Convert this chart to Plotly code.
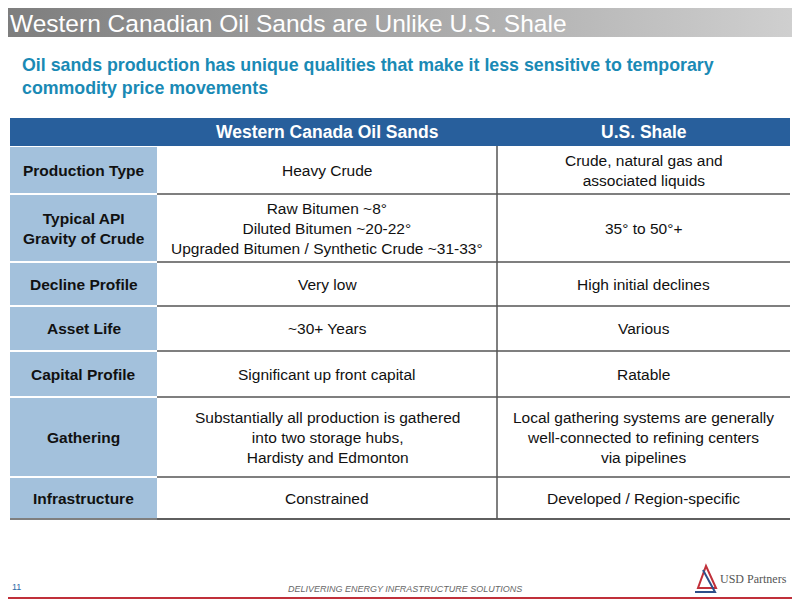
import plotly.graph_objects as go

# table content
header = ["Western Canada Oil Sands", "U.S. Shale"]
row_labels = ["Production Type", "Typical API<br>Gravity of Crude", "Decline Profile",
              "Asset Life", "Capital Profile", "Gathering", "Infrastructure"]
oil_sands = ["Heavy Crude",
             "Raw Bitumen ~8°<br>Diluted Bitumen ~20-22°<br>Upgraded Bitumen / Synthetic Crude ~31-33°",
             "Very low", "~30+ Years", "Significant up front capital",
             "Substantially all production is gathered<br>into two storage hubs,<br>Hardisty and Edmonton",
             "Constrained"]
shale = ["Crude, natural gas and<br>associated liquids", "35° to 50°+", "High initial declines",
         "Various", "Ratable",
         "Local gathering systems are generally<br>well-connected to refining centers<br>via pipelines",
         "Developed / Region-specific"]

# layout of the table (pixels)
col_edges = [10, 157, 497, 790]
header_top, header_bottom = 118, 146
row_heights = [48, 68, 44, 45, 46, 80, 42]

FONT = "Liberation Sans, Arial"
fig = go.Figure()

# title bar with gradient
fig.add_trace(go.Scatter(
    x=[0, 800, 800, 0, 0], y=[0, 0, 37, 37, 0], mode="lines", line=dict(width=0),
    fill="toself", hoverinfo="skip", showlegend=False,
    fillgradient=dict(type="horizontal", colorscale=[[0, "#7d7d7d"], [1, "#d0d0d0"]]),
))

# header
fig.add_shape(type="rect", x0=col_edges[0], x1=col_edges[3], y0=header_top, y1=header_bottom,
              fillcolor="#285f9c", line_width=0, layer="below")
for i, h in enumerate(header):
    fig.add_annotation(x=(col_edges[i + 1] + col_edges[i + 2]) / 2, y=(header_top + header_bottom) / 2,
                       text="<b>%s</b>" % h, showarrow=False,
                       font=dict(family=FONT, size=17.5, color="white"))

# rows
y = header_bottom
for lab, a, b, h in zip(row_labels, oil_sands, shale, row_heights):
    fig.add_shape(type="rect", x0=col_edges[0], x1=col_edges[1], y0=y + 1, y1=y + h - 1,
                  fillcolor="#a3c1dc", line_width=0, layer="below")
    fig.add_shape(type="line", x0=col_edges[1], x1=col_edges[3], y0=y + h, y1=y + h,
                  line=dict(color="#555555", width=1.5))
    for txt, c0, c1, bold in [(lab, 0, 1, True), (a, 1, 2, False), (b, 2, 3, False)]:
        fig.add_annotation(x=(col_edges[c0] + col_edges[c1]) / 2, y=y + h / 2,
                           text="<b>%s</b>" % txt if bold else txt, showarrow=False, align="center",
                           font=dict(family=FONT, size=15.5, color="#111111"))
    y += h
fig.add_shape(type="line", x0=col_edges[0], x1=col_edges[3], y0=y, y1=y,
              line=dict(color="#555555", width=1.5))
fig.add_shape(type="line", x0=col_edges[2], x1=col_edges[2], y0=header_bottom, y1=y,
              line=dict(color="#555555", width=1.5))

fig.add_annotation(x=8, y=23, text="Western Canadian Oil Sands are Unlike U.S. Shale",
                   showarrow=False, xanchor="left", yanchor="middle",
                   font=dict(family=FONT, size=24.5, color="white"))
fig.add_annotation(x=20, y=76,
                   text="<b>Oil sands production has unique qualities that make it less sensitive to temporary<br>commodity price movements</b>",
                   showarrow=False, xanchor="left", yanchor="middle", align="left",
                   font=dict(family=FONT, size=17.8, color="#1a8ab5"))
fig.add_annotation(x=10, y=587, text="11", showarrow=False, xanchor="left",
                   font=dict(family=FONT, size=9, color="#2d6aa6"))
fig.add_annotation(x=405, y=589, text="<i>DELIVERING ENERGY INFRASTRUCTURE SOLUTIONS</i>",
                   showarrow=False, font=dict(family=FONT, size=9, color="#666666"))
fig.add_annotation(x=718, y=579, text="USD Partners", showarrow=False, xanchor="left",
                   font=dict(family="Liberation Serif, Times New Roman", size=12, color="#555555"))

fig.add_shape(type="line", x0=0, x1=800, y0=598, y1=598, line=dict(color="#c0303a", width=2))
fig.add_shape(type="path", path="M 706 566 L 716 588 L 698 588 Z", line=dict(color="#c0303a", width=2))
fig.add_shape(type="path", path="M 703 570 L 715 592 L 695 592", line=dict(color="#2d4f8a", width=2))

# the page body adds an 8px margin: draw in a 792x592 figure offset by 8px
fig.update_layout(
    width=792, height=592, margin=dict(l=0, r=0, t=0, b=0),
    paper_bgcolor="white", plot_bgcolor="white",
    xaxis=dict(range=[8, 800], visible=False, fixedrange=True),
    yaxis=dict(range=[600, 8], visible=False, fixedrange=True),
)

fig.write_html("out.html")
